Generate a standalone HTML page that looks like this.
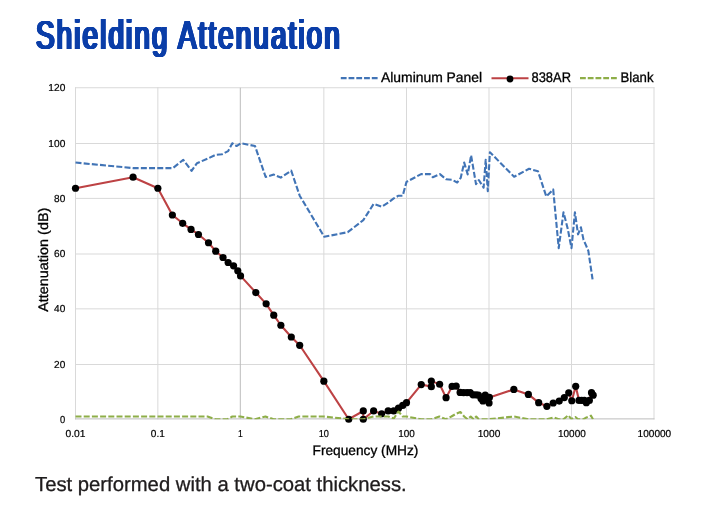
<!DOCTYPE html>
<html lang="en"><head><meta charset="utf-8"><title>Shielding Attenuation</title>
<style>html,body{margin:0;padding:0;background:#fff}body{width:720px;height:516px;overflow:hidden;position:relative;font-family:"Liberation Sans",sans-serif}svg{position:absolute;left:0;top:0;display:block}text{font-family:"Liberation Sans",sans-serif;text-rendering:geometricPrecision}#title{position:absolute;left:35.9px;top:16.0px;margin:0;padding:0;font:normal 39.8px/1 "Liberation Sans",sans-serif;color:#0b3ea8;white-space:nowrap;transform-origin:0 0;transform:scaleX(0.7);letter-spacing:3.0px;text-shadow:-1.7px -0.4px 0 #0b3ea8,-1.7px 0.4px 0 #0b3ea8,-0.85px -0.4px 0 #0b3ea8,-0.85px 0.4px 0 #0b3ea8,0px -0.4px 0 #0b3ea8,0px 0.4px 0 #0b3ea8,0.85px -0.4px 0 #0b3ea8,0.85px 0.4px 0 #0b3ea8,1.7px -0.4px 0 #0b3ea8,1.7px 0.4px 0 #0b3ea8}</style></head><body>
<svg width="720" height="516" viewBox="0 0 720 516">
<rect width="720" height="516" fill="#fff"/>
<path d="M75.00 364.50H654.50M75.00 308.85H654.50M75.00 254.00H654.50M75.00 198.40H654.50M75.00 143.50H654.50M75.00 87.75H654.50M75.50 87.25V419.40M157.85 87.25V419.40M323.85 87.25V419.40M406.50 87.25V419.40M489.00 87.25V419.40M571.50 87.25V419.40M654.00 87.25V419.40" stroke="#d9d9d9" stroke-width="1" fill="none"/>
<path d="M240.30 87.75V418.90M75.00 418.90H654.50" stroke="#bcbcbc" stroke-width="1" fill="none"/>
<defs><clipPath id="plot"><rect x="74.5" y="87" width="581" height="332.2"/></clipPath></defs>
<polyline points="75.50,162.57 133.06,168.09 157.85,168.09 172.97,168.09 183.27,159.81 191.56,170.85 196.99,163.17 207.49,158.71 215.48,154.84 222.01,154.29 228.13,151.13 232.31,143.25 236.53,146.01 240.80,143.25 255.01,146.01 265.65,176.97 273.75,174.61 280.76,177.57 291.20,170.65 299.70,195.69 324.25,236.79 347.73,232.17 363.28,220.15 373.61,203.97 381.62,206.73 388.16,202.59 393.70,198.45 398.49,195.69 402.72,195.69 406.50,181.89 421.10,174.15 430.20,174.15 432.80,177.20 439.90,174.15 446.10,179.30 451.70,179.70 457.20,182.50 460.70,177.90 464.20,162.60 467.70,174.40 471.10,155.40 476.00,184.15 478.80,180.00 480.90,183.40 483.60,187.60 485.70,159.80 487.80,191.10 489.90,152.20 514.13,176.77 529.06,168.79 537.97,171.25 546.27,196.39 553.20,189.47 558.72,248.13 563.50,212.25 567.73,228.81 571.50,248.13 574.91,212.25 578.03,234.33 580.90,227.31 583.56,239.85 586.03,245.37 588.34,250.89 592.56,279.32" fill="none" stroke="#4174b6" stroke-width="2.1" stroke-dasharray="6 2.2" stroke-linejoin="round"/>
<polyline clip-path="url(#plot)" points="75.50,188.24 133.06,177.20 157.85,188.24 172.37,215.01 182.67,223.29 191.06,229.39 198.44,234.48 208.49,242.76 215.73,251.19 223.01,257.51 228.13,262.51 233.56,265.82 237.78,270.76 240.55,275.88 255.81,292.54 266.15,303.86 273.75,315.17 280.86,325.26 291.30,336.98 299.70,345.28 323.85,381.16 348.73,419.25 363.28,410.97 363.28,419.25 373.61,410.97 381.62,413.73 388.16,410.97 393.70,410.97 398.49,408.21 402.72,405.45 406.50,402.69 421.23,384.55 431.33,386.63 431.33,381.11 439.63,384.25 446.06,397.67 452.09,386.43 456.17,386.13 460.11,392.41 463.60,392.62 467.09,392.62 470.22,392.62 473.01,394.78 475.94,394.78 478.45,394.99 481.03,398.48 482.91,400.92 485.22,394.99 487.31,399.87 489.05,403.01 489.40,397.43 513.83,389.44 528.36,394.41 538.67,402.69 546.87,406.28 553.20,402.99 559.22,401.06 564.30,397.57 568.73,392.78 571.80,400.76 575.71,386.33 579.03,400.43 581.70,400.33 584.36,400.33 586.33,402.69 589.34,400.43 591.51,392.65 593.16,395.21" fill="none" stroke="#bd4244" stroke-width="2.1" stroke-linejoin="round"/>
<g fill="#000"><circle cx="75.50" cy="188.24" r="3.6"/><circle cx="133.06" cy="177.20" r="3.6"/><circle cx="157.85" cy="188.24" r="3.6"/><circle cx="172.37" cy="215.01" r="3.6"/><circle cx="182.67" cy="223.29" r="3.6"/><circle cx="191.06" cy="229.39" r="3.6"/><circle cx="198.44" cy="234.48" r="3.6"/><circle cx="208.49" cy="242.76" r="3.6"/><circle cx="215.73" cy="251.19" r="3.6"/><circle cx="223.01" cy="257.51" r="3.6"/><circle cx="228.13" cy="262.51" r="3.6"/><circle cx="233.56" cy="265.82" r="3.6"/><circle cx="237.78" cy="270.76" r="3.6"/><circle cx="240.55" cy="275.88" r="3.6"/><circle cx="255.81" cy="292.54" r="3.6"/><circle cx="266.15" cy="303.86" r="3.6"/><circle cx="273.75" cy="315.17" r="3.6"/><circle cx="280.86" cy="325.26" r="3.6"/><circle cx="291.30" cy="336.98" r="3.6"/><circle cx="299.70" cy="345.28" r="3.6"/><circle cx="323.85" cy="381.16" r="3.6"/><circle cx="348.73" cy="419.25" r="3.6"/><circle cx="363.28" cy="410.97" r="3.6"/><circle cx="363.28" cy="419.25" r="3.6"/><circle cx="373.61" cy="410.97" r="3.6"/><circle cx="381.62" cy="413.73" r="3.6"/><circle cx="388.16" cy="410.97" r="3.6"/><circle cx="393.70" cy="410.97" r="3.6"/><circle cx="398.49" cy="408.21" r="3.6"/><circle cx="402.72" cy="405.45" r="3.6"/><circle cx="406.50" cy="402.69" r="3.6"/><circle cx="421.23" cy="384.55" r="3.6"/><circle cx="431.33" cy="386.63" r="3.6"/><circle cx="431.33" cy="381.11" r="3.6"/><circle cx="439.63" cy="384.25" r="3.6"/><circle cx="446.06" cy="397.67" r="3.6"/><circle cx="452.09" cy="386.43" r="3.6"/><circle cx="456.17" cy="386.13" r="3.6"/><circle cx="460.11" cy="392.41" r="3.6"/><circle cx="463.60" cy="392.62" r="3.6"/><circle cx="467.09" cy="392.62" r="3.6"/><circle cx="470.22" cy="392.62" r="3.6"/><circle cx="473.01" cy="394.78" r="3.6"/><circle cx="475.94" cy="394.78" r="3.6"/><circle cx="478.45" cy="394.99" r="3.6"/><circle cx="481.03" cy="398.48" r="3.6"/><circle cx="482.91" cy="400.92" r="3.6"/><circle cx="485.22" cy="394.99" r="3.6"/><circle cx="487.31" cy="399.87" r="3.6"/><circle cx="489.05" cy="403.01" r="3.6"/><circle cx="489.40" cy="397.43" r="3.6"/><circle cx="513.83" cy="389.44" r="3.6"/><circle cx="528.36" cy="394.41" r="3.6"/><circle cx="538.67" cy="402.69" r="3.6"/><circle cx="546.87" cy="406.28" r="3.6"/><circle cx="553.20" cy="402.99" r="3.6"/><circle cx="559.22" cy="401.06" r="3.6"/><circle cx="564.30" cy="397.57" r="3.6"/><circle cx="568.73" cy="392.78" r="3.6"/><circle cx="571.80" cy="400.76" r="3.6"/><circle cx="575.71" cy="386.33" r="3.6"/><circle cx="579.03" cy="400.43" r="3.6"/><circle cx="581.70" cy="400.33" r="3.6"/><circle cx="584.36" cy="400.33" r="3.6"/><circle cx="586.33" cy="402.69" r="3.6"/><circle cx="589.34" cy="400.43" r="3.6"/><circle cx="591.51" cy="392.65" r="3.6"/><circle cx="593.16" cy="395.21" r="3.6"/></g>
<polyline clip-path="url(#plot)" points="75.50,416.49 133.06,416.49 157.85,416.49 172.37,416.49 182.67,416.49 190.66,416.49 197.19,416.49 207.49,416.49 215.48,419.25 222.01,419.25 227.53,419.25 232.31,416.49 236.53,416.49 240.30,416.49 255.01,419.25 265.45,416.49 273.55,419.25 280.16,419.25 290.60,419.25 298.70,416.49 323.85,416.49 348.73,419.25 363.28,419.25 373.61,416.49 381.62,416.49 388.16,416.49 393.70,418.55 398.49,411.53 402.72,416.49 406.50,416.49 421.03,419.25 431.33,419.25 439.33,416.49 445.86,419.25 451.39,416.49 456.17,413.73 460.39,411.97 464.17,416.49 467.58,419.25 470.70,416.49 473.57,419.25 476.22,416.49 478.69,419.25 481.00,419.25 485.23,419.25 489.00,419.25 513.83,416.49 528.36,419.25 538.67,419.25 546.67,419.25 553.50,417.39 558.72,419.25 563.50,419.25 568.23,415.23 571.50,419.25 575.41,416.99 578.03,419.25 580.90,419.25 583.56,419.25 586.53,417.39 591.01,415.63 592.96,419.25" fill="none" stroke="#8eae48" stroke-width="2.1" stroke-dasharray="6 2.2" stroke-linejoin="round"/>
<path d="M340.8 78.1H377.6" stroke="#4174b6" stroke-width="2.1" stroke-dasharray="5.8 1.95" fill="none"/>
<path d="M491.5 78.3H528.5" stroke="#bd4244" stroke-width="2.1" fill="none"/><circle cx="510" cy="79.0" r="3.4" fill="#000"/>
<path d="M580 78.1H617" stroke="#8eae48" stroke-width="2.1" stroke-dasharray="5.8 1.95" fill="none"/>
<g font-size="13.9" fill="#000" stroke="#000" stroke-width="0.3">
<text transform="translate(381.00 82.30) scale(0.9999 1)">Aluminum Panel</text>
<text transform="translate(531.50 82.30) scale(0.9294 1)">838AR</text>
<text transform="translate(620.50 82.30) scale(0.9490 1)">Blank</text>
<text transform="translate(312.50 454.60) scale(0.9873 1)">Frequency (MHz)</text>
<text transform="translate(48.00 311.80) rotate(-90) scale(1.0373 1)">Attenuation (dB)</text>
</g>
<g font-size="10.1" fill="#000" stroke="#000" stroke-width="0.2">
<text transform="translate(60.10 423.25) scale(0.9256 1)">0</text>
<text transform="translate(54.10 367.95) scale(0.9969 1)">20</text>
<text transform="translate(54.10 312.30) scale(0.9969 1)">40</text>
<text transform="translate(54.10 257.45) scale(0.9969 1)">60</text>
<text transform="translate(54.10 201.85) scale(0.9969 1)">80</text>
<text transform="translate(48.30 146.95) scale(1.0087 1)">100</text>
<text transform="translate(48.30 91.20) scale(1.0087 1)">120</text>
<text transform="translate(65.50 437.40) scale(1.0174 1)">0.01</text>
<text transform="translate(150.85 437.40) scale(0.9971 1)">0.1</text>
<text transform="translate(237.90 437.40) scale(0.8544 1)">1</text>
<text transform="translate(318.75 437.40) scale(0.9079 1)">10</text>
<text transform="translate(398.20 437.40) scale(0.9850 1)">100</text>
<text transform="translate(477.70 437.40) scale(1.0058 1)">1000</text>
<text transform="translate(558.00 437.40) scale(0.9898 1)">10000</text>
<text transform="translate(637.60 437.40) scale(0.9969 1)">100000</text>
</g>
<text x="35" y="490.7" font-size="20.27" fill="#1f1c1d" stroke="#1f1c1d" stroke-width="0.3">Test performed with a two-coat thickness.</text>
</svg>
<h1 id="title">Shielding Attenuation</h1>
</body></html>
